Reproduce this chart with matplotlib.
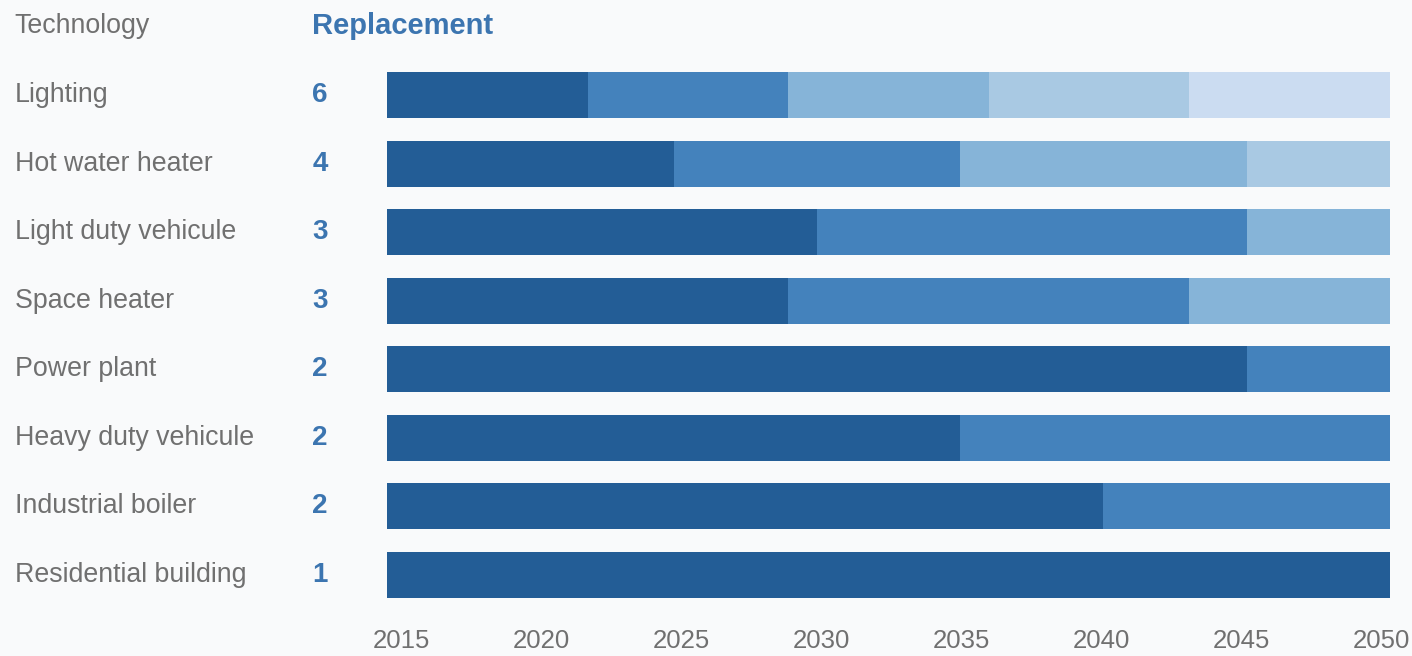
import matplotlib.pyplot as plt
from matplotlib.transforms import ScaledTranslation

plt.rcParams['font.family'] = ['Liberation Sans Narrow', 'Liberation Sans', 'DejaVu Sans']

# Technologies, top to bottom
technologies = ['Lighting', 'Hot water heater', 'Light duty vehicule', 'Space heater',
                'Power plant', 'Heavy duty vehicule', 'Industrial boiler', 'Residential building']
replacements = [6, 4, 3, 3, 2, 2, 2, 1]

# Replacement years (segment boundaries between 2015 and 2050)
start_year = 2015
end_year = 2050
lighting = [2022, 2029, 2036, 2043]
hot_water = [2025, 2035, 2045]
light_duty = [2030, 2045]
space_heater = [2029, 2043]
power_plant = [2045]
heavy_duty = [2035]
industrial_boiler = [2040]
residential = []
boundaries = [lighting, hot_water, light_duty, space_heater,
              power_plant, heavy_duty, industrial_boiler, residential]

xticks = [2015, 2020, 2025, 2030, 2035, 2040, 2045, 2050]

colors = ['#235d96', '#4482bc', '#86b4d8', '#a9c9e3', '#cbdcf1']
bg = '#f9fafb'
grey = '#707070'
blue = '#3c75b0'

fig = plt.figure(figsize=(14.12, 6.56), dpi=100, facecolor=bg)
ax = fig.add_axes([0.274, 0.0712, 0.7105, 0.8363], facecolor=bg)

for i, bnds in enumerate(boundaries):
    edges = [start_year] + bnds + [end_year]
    for k in range(len(edges) - 1):
        ax.barh(i, edges[k + 1] - edges[k], left=edges[k], height=0.67,
                color=colors[k], edgecolor='none')

ax.set_xlim(start_year, end_year)
ax.set_ylim(len(technologies) - 0.5, -0.5)
ax.set_xticks(xticks)
ax.set_xticklabels([str(t) for t in xticks], fontsize=18.5, color=grey)
ax.tick_params(axis='x', length=0, pad=14)
# year labels sit slightly inside the bar span
for t, lab in zip(xticks, ax.get_xticklabels()):
    dx = (15 - (t - start_year) * 0.69) / 100
    lab.set_transform(lab.get_transform() + ScaledTranslation(dx, 0, fig.dpi_scale_trans))
ax.set_yticks([])
for s in ax.spines.values():
    s.set_visible(False)

tr = ax.get_yaxis_transform()
for i, (name, n) in enumerate(zip(technologies, replacements)):
    ax.text(-0.371, i, name, transform=tr, fontsize=19.3, color=grey,
            ha='left', va='center', clip_on=False)
    ax.text(-0.0668, i, str(n), transform=tr, fontsize=20, color=blue,
            fontweight='bold', ha='center', va='center', clip_on=False)

ax.text(-0.371, -1.0, 'Technology', transform=tr, fontsize=19.3, color=grey,
        ha='left', va='center', clip_on=False)
ax.text(-0.075, -1.0, 'Replacement', transform=tr, fontsize=21, color=blue,
        fontweight='bold', ha='left', va='center', clip_on=False)

fig.savefig('out.png', dpi=100, facecolor=bg)
